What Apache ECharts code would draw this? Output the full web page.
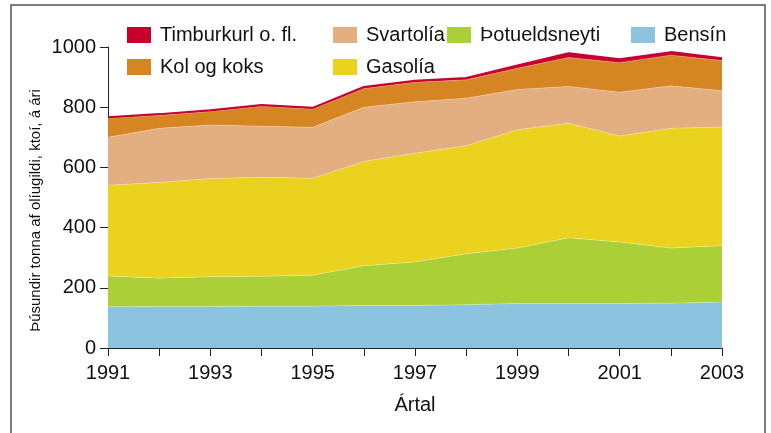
<!DOCTYPE html>
<html>
<head>
<meta charset="utf-8">
<script src="https://cdn.jsdelivr.net/npm/echarts@6/dist/echarts.min.js"></script>
<style>
  html, body { margin: 0; padding: 0; background: #fff; }
  #chart { width: 771px; height: 433px; }
</style>
</head>
<body>
<div id="chart"></div>
<script>
// ár og orkugjafar
const years = ['1991', '1992', '1993', '1994', '1995', '1996', '1997', '1998', '1999', '2000', '2001', '2002', '2003'];
const bensin = [137, 138, 138, 139, 139, 141, 141, 144, 148, 148, 148, 149, 153];
const thotueldsneyti = [102, 94, 99, 99, 103, 132, 145, 169, 184, 218, 204, 183, 187];
const gasolia = [302, 318, 326, 329, 322, 347, 361, 359, 393, 381, 352, 398, 394];
const svartolia = [159, 180, 178, 170, 169, 180, 171, 158, 134, 122, 146, 141, 121];
const kolOgKoks = [63, 43, 45, 66, 61, 62, 65, 61, 70, 96, 98, 102, 100];
const timburkurl = [4, 4, 4, 4, 4, 5, 5, 6, 10, 14, 11, 10, 8];
const yTicks = [0, 200, 400, 600, 800, 1000];

const font = '"Liberation Sans", Arial, sans-serif';
const myChart = echarts.init(document.getElementById('chart'));

function layer(name, data, color, line) {
  return {
    name: name,
    type: 'line',
    stack: 'total',
    data: data,
    symbol: 'none',
    itemStyle: { color: color },
    lineStyle: line ? { color: color, width: 2 } : { width: 0.8, color: 'rgba(255,255,255,0.35)' },
    areaStyle: { color: color, opacity: 1 }
  };
}

const legendBase = {
  orient: 'vertical',
  itemWidth: 24,
  itemHeight: 16,
  itemGap: 12,
  icon: 'rect',
  textStyle: { fontFamily: font, fontSize: 20, color: '#111', padding: [0, 0, 0, 4] }
};

const option = {
  animation: false,
  graphic: [{
    type: 'rect',
    shape: { x: 11, y: 5, width: 754, height: 440 },
    style: { fill: 'none', stroke: '#555', lineWidth: 1.5 },
    z: 100
  }],
  legend: [
    Object.assign({ left: 122, top: 20, data: ['Timburkurl o. fl.', 'Kol og koks'] }, legendBase),
    Object.assign({ left: 328, top: 20, data: ['Svartolía', 'Gasolía'] }, legendBase),
    Object.assign({ left: 442, top: 20, data: ['Þotueldsneyti'] }, legendBase),
    Object.assign({ left: 626, top: 20, data: ['Bensín'] }, legendBase)
  ],
  grid: { left: 108, right: 49, top: 47, bottom: 85 },
  xAxis: {
    type: 'category',
    boundaryGap: false,
    data: years,
    name: 'Ártal',
    nameLocation: 'middle',
    nameGap: 47,
    nameTextStyle: { fontFamily: font, fontSize: 20, color: '#111' },
    axisLine: { lineStyle: { color: '#222', width: 1 } },
    axisTick: { interval: 0, length: 8, lineStyle: { color: '#222' } },
    axisLabel: { interval: 1, fontFamily: font, fontSize: 20, color: '#111', margin: 15 },
    splitLine: { show: false }
  },
  yAxis: {
    type: 'value',
    min: yTicks[0],
    max: yTicks[yTicks.length - 1],
    interval: 200,
    name: 'Þúsundir tonna af olíugildi, ktoí, á ári',
    nameLocation: 'middle',
    nameGap: 65,
    nameMoveOverlap: false,
    nameTextStyle: { fontFamily: font, fontSize: 15, color: '#111', padding: [0, 26, 0, 0] },
    axisLine: { show: true, lineStyle: { color: '#222', width: 1 } },
    axisTick: { show: true, length: 8, lineStyle: { color: '#222' } },
    axisLabel: { fontFamily: font, fontSize: 20, color: '#111', margin: 12, formatter: (v) => String(v) },
    splitLine: { show: false }
  },
  series: [
    layer('Bensín', bensin, '#8CC3DF'),
    layer('Þotueldsneyti', thotueldsneyti, '#ABCF37'),
    layer('Gasolía', gasolia, '#EBD21F'),
    layer('Svartolía', svartolia, '#E3AE80'),
    layer('Kol og koks', kolOgKoks, '#D58623'),
    layer('Timburkurl o. fl.', timburkurl, '#C8002D', true)
  ]
};

myChart.setOption(option);
</script>
</body>
</html>
